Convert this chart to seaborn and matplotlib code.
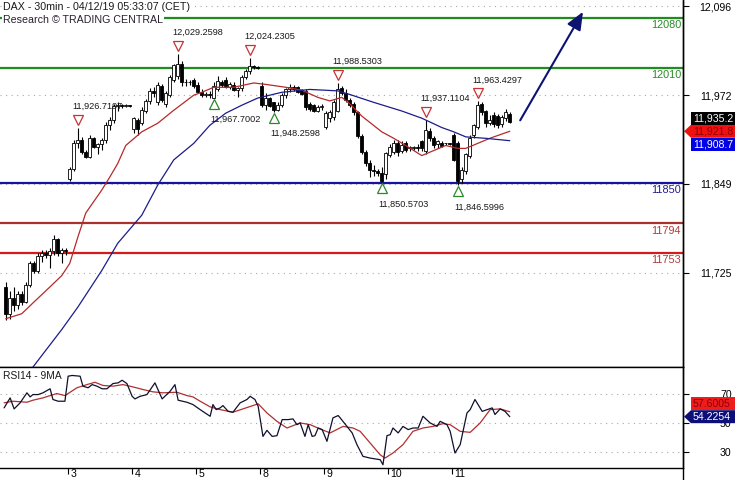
import numpy as np
import pandas as pd
import matplotlib
matplotlib.use("Agg")
import matplotlib.pyplot as plt
import matplotlib.transforms as mtransforms
from matplotlib.patches import Polygon
from matplotlib.lines import Line2D
import seaborn as sns

# ---------------- data ----------------
opens = [11705, 11668, 11690, 11680, 11695, 11685, 11708, 11738, 11728, 11748, 11752, 11750, 11755, 11772, 11752, 11756,
         11856, 11870, 11906, 11910, 11893, 11886, 11912, 11900, 11904, 11909, 11930, 11938, 11957, 11958, 11957, 11958,
         11925, 11938, 11933, 11950, 11964, 11978, 11962, 11985, 11960, 11972, 11993, 11998, 12016, 11990, 11990, 11993,
         11986, 11976, 11972, 11974, 11968, 11980, 11990, 11993, 11984, 11986, 11979, 11982, 11997, 12006, 12012, 12011,
         11985, 11958, 11968, 11962, 11952, 11958, 11972, 11980, 11983, 11983, 11979, 11978, 11960, 11958, 11950, 11956,
         11928, 11940, 11942, 11950, 11982, 11975, 11965, 11960, 11948, 11915, 11893, 11878, 11868, 11866, 11864, 11862,
         11889, 11893, 11906, 11895, 11905, 11898, 11899, 11900, 11908, 11895, 11922, 11912, 11904, 11906, 11905, 11905,
         11916, 11905, 11856, 11866, 11888, 11916, 11928, 11960, 11950, 11933, 11945, 11943, 11932, 11940, 11946]
highs = [11712, 11700, 11705, 11700, 11700, 11712, 11742, 11742, 11752, 11756, 11756, 11760, 11778, 11774, 11760, 11760,
         11872, 11910, 11926.7197, 11914, 11896, 11916, 11914, 11906, 11912, 11935, 11942, 11960, 11962, 11960, 11960, 11959,
         11942, 11940, 11955, 11966, 11982, 11984, 11990, 11988, 11978, 12000, 12016, 12029.2598, 12020, 11995, 11993, 11996,
         11990, 11980, 11976, 11978, 11990, 11998, 11993, 11997, 11990, 11990, 11984, 12000, 12008, 12024.2305, 12014, 12013,
         11990, 11975, 11970, 11963, 11962, 11975, 11982, 11987, 11986, 11985, 11981, 11980, 11962, 11960, 11958, 11960,
         11950, 11952, 11965, 11988.5303, 11985, 11980, 11968, 11962, 11950, 11918, 11896, 11882, 11875, 11870, 11872, 11893,
         11904, 11910, 11910, 11908, 11908, 11902, 11902, 11904, 11910, 11937.1104, 11926, 11915, 11910, 11908, 11906, 11906,
         11920, 11908, 11872, 11892, 11916, 11932, 11963.4297, 11962, 11952, 11944, 11948, 11946, 11945, 11953, 11948]
lows = [11659, 11660, 11672, 11675, 11680, 11683, 11705, 11725, 11724, 11740, 11745, 11732, 11750, 11748, 11738, 11750,
        11852, 11866, 11898, 11890, 11884, 11884, 11898, 11890, 11896, 11906, 11924, 11933, 11950, 11954, 11955, 11955,
        11920, 11916, 11930, 11947, 11960, 11970, 11958, 11962, 11956, 11970, 11990, 11995, 11985, 11985, 11986, 11982,
        11975, 11970, 11969, 11968, 11967.7002, 11978, 11984, 11982, 11980, 11978, 11970, 11978, 11994, 12002, 12008, 12008,
        11955, 11952, 11955, 11948.2598, 11950, 11955, 11968, 11976, 11978, 11975, 11972, 11952, 11950, 11948, 11948, 11952,
        11925, 11935, 11938, 11948, 11972, 11962, 11956, 11945, 11912, 11890, 11874, 11858, 11860, 11860, 11850.5703, 11855,
        11886, 11890, 11888, 11892, 11893, 11894, 11896, 11895, 11895, 11890, 11908, 11898, 11898, 11900, 11903, 11903,
        11880, 11846.5996, 11850, 11862, 11885, 11912, 11925, 11945, 11928, 11930, 11928, 11926, 11928, 11936, 11934]
closes = [11668, 11690, 11680, 11695, 11685, 11708, 11738, 11728, 11748, 11752, 11750, 11755, 11772, 11752, 11756, 11755,
          11870, 11906, 11910, 11893, 11886, 11912, 11900, 11904, 11909, 11930, 11938, 11957, 11958, 11957, 11958, 11957,
          11940, 11925, 11951, 11964, 11978, 11975, 11986, 11965, 11975, 11997, 12014, 12016, 11990, 11990, 11991, 11985,
          11976, 11972, 11974, 11972, 11985, 11992, 11986, 11984, 11988, 11979, 11982, 11997, 12006, 12012, 12011, 12010,
          11958, 11968, 11957, 11952, 11958, 11972, 11980, 11983, 11981, 11977, 11974, 11955, 11953, 11950, 11956, 11957,
          11947, 11948, 11962, 11980, 11975, 11965, 11958, 11948, 11915, 11893, 11878, 11868, 11866, 11864, 11852, 11891,
          11900, 11905, 11893, 11903, 11896, 11900, 11900, 11899, 11898, 11924, 11912, 11903, 11908, 11902, 11905, 11904,
          11882, 11852, 11868, 11890, 11913, 11930, 11958, 11948, 11934, 11938, 11932, 11930, 11942, 11948, 11935.2]

# moving averages on price (candle index, value)
ma_red_t = [0, 4, 7, 11, 14, 16, 18, 20, 24, 26, 28, 30, 34, 38, 42, 47, 49, 52, 57, 62, 65, 70, 74, 78, 81, 84, 86,
            89, 94, 97, 100, 104, 107, 110, 113, 115, 118, 121, 126]
ma_red_v = [11661, 11668, 11684, 11705, 11721, 11738, 11774, 11808, 11840, 11858, 11877, 11902, 11921, 11933, 11951,
            11972, 11976, 11983, 11983, 11989, 11987, 11983, 11979, 11969, 11964, 11969, 11960, 11943, 11921, 11912,
            11902, 11888, 11895, 11902, 11898, 11898, 11905, 11912, 11921.8]
ma_blue_t = [6, 14, 18, 24, 28, 34, 38, 42, 47, 51, 55, 59, 63, 69, 76, 83, 86, 92, 99, 104, 109, 112, 115, 120, 126]
ma_blue_v = [11588, 11646, 11677, 11728, 11766, 11805, 11847, 11882, 11905, 11930, 11947, 11958, 11968, 11976, 11980,
             11978, 11973, 11962, 11950, 11940, 11927, 11921, 11914, 11912, 11908.7]

# RSI14 and its 9-period MA
rsi_t = [-0.4, 1.1, 2.1, 3.6, 5.3, 6.1, 6.8, 8.1, 9.3, 11.1, 11.8, 13.1, 14.8, 15.6, 16.6, 18.6, 19.3, 20.6, 21.6,
         22.8, 24.1, 25.3, 26.8, 28.1, 29.1, 30.3, 31.6, 32.3, 33.6, 35.3, 37.3, 39.1, 41.1, 42.3, 43.1, 45.3, 46.8,
         48.6, 51.1, 51.8, 52.6, 53.6, 54.3, 55.6, 56.8, 58.6, 60.3, 61.1, 62.3, 63.1, 64.3, 65.3, 66.6, 67.8, 69.1,
         70.6, 71.8, 72.8, 73.6, 74.8, 75.6, 76.6, 77.3, 78.1, 79.1, 80.3, 81.8, 83.1, 83.6, 85.3, 86.6, 87.8, 89.3,
         91.1, 93.6, 94.3, 95.3, 96.1, 96.8, 98.1, 99.3, 100.6, 101.8, 103.1, 104.3, 106.1, 107.8, 108.6, 110.3,
         111.1, 112.3, 113.6, 115.3, 116.1, 117.3, 119.1, 121.6, 122.3, 123.6, 124.8, 126.0]
rsi_v = [60.3, 67.2, 59.6, 63.8, 70.7, 67.9, 69.5, 69.5, 70.7, 73.5, 66.1, 64.9, 64.9, 82.2, 82.7, 82.2, 75.3, 74.2,
         76.4, 75.3, 73.5, 73.5, 77.1, 77.6, 79.4, 77.1, 68.3, 66.5, 68.3, 69.5, 77.6, 66.5, 71.8, 76.4, 65.6, 64.2,
         62.6, 59.1, 54.5, 62.6, 59.1, 60.3, 61.9, 57.9, 57.3, 63.8, 66.1, 68.3, 66.1, 61.4, 40.6, 44.8, 40.6, 41.1,
         52.2, 52.2, 52.7, 48.7, 49.9, 40.6, 48.7, 40.6, 41.1, 46.4, 45.3, 37.2, 53.4, 55.0, 53.4, 47.5, 43.0, 34.9,
         26.8, 25.6, 24.5, 21.0, 41.1, 41.8, 46.4, 43.0, 47.5, 45.3, 46.4, 46.4, 54.5, 49.9, 47.5, 51.0, 48.7, 44.1,
         29.1, 34.9, 56.8, 59.1, 66.1, 57.9, 60.3, 55.7, 59.6, 57.9, 54.2254]
rsima_t = [-0.4, 1.8, 5.3, 6.8, 9.3, 11.1, 12.8, 14.8, 17.8, 20.3, 22.3, 24.3, 26.8, 29.3, 31.8, 34.3, 36.8, 39.3,
           42.8, 45.3, 46.8, 48.6, 51.1, 53.6, 56.8, 59.3, 61.8, 63.1, 65.3, 67.8, 70.3, 71.8, 73.6, 76.1, 78.6,
           81.1, 84.3, 86.8, 88.6, 91.1, 93.6, 94.8, 96.8, 99.3, 101.8, 104.3, 106.8, 109.3, 111.1, 113.6, 116.1,
           118.6, 121.1, 123.6, 126.0]
rsima_v = [63.8, 64.9, 64.2, 65.6, 67.2, 68.8, 70.2, 68.8, 74.2, 76.4, 78.0, 75.8, 75.3, 76.4, 74.8, 73.0, 71.4,
           70.7, 71.1, 68.8, 67.9, 64.9, 61.0, 59.1, 57.3, 59.6, 61.9, 63.1, 56.8, 51.0, 46.4, 48.0, 49.9, 48.7,
           45.7, 43.0, 47.5, 46.4, 44.1, 36.0, 27.9, 25.6, 29.1, 34.9, 44.1, 46.4, 47.5, 49.4, 48.7, 44.1, 43.4,
           49.9, 59.1, 59.6, 57.6005]

# swing highs / lows
top_idx = [18, 43, 61, 83, 105, 118]
top_val = [11926.7197, 12029.2598, 12024.2305, 11988.5303, 11937.1104, 11963.4297]
bot_idx = [52, 67, 94, 113]
bot_val = [11967.7002, 11948.2598, 11850.5703, 11846.5996]

# support / resistance levels
level_vals = [12080, 12010, 11850, 11794, 11753]
level_line_colors = ['#1f8c1f', '#1f8c1f', '#1414a0', '#a83030', '#d41a1a']
level_text_colors = ['#2a8a2a', '#2a8a2a', '#1e1e8c', '#b03a3a', '#b03a3a']

# forecast arrow (candle index, price)
arrow_from = (128.6, 11937.0)
arrow_to = (144.3, 12088.0)

price_ticks = [12096, 11972, 11849, 11725]
rsi_ticks = [70, 50, 30]
day_labels = ['3', '4', '5', '8', '9', '10', '11']
day_first_candle = [16, 32, 48, 64, 80, 96, 112]

title_1 = "DAX - 30min - 04/12/19 05:33:07 (CET)"
title_2 = "Research \u00a9 TRADING CENTRAL"
rsi_title = "RSI14 - 9MA"

# ---------------- style ----------------
sns.set_theme(style="white")
plt.rcParams['font.family'] = ['Liberation Sans', 'DejaVu Sans']
TXT = '#1a1a1a'

W, H = 735.0, 480.0
fig = plt.figure(figsize=(7.35, 4.8), dpi=100)
ax = fig.add_axes([0, 113.5 / H, 683 / W, 366.5 / H])
ax2 = fig.add_axes([0, 12.5 / H, 683 / W, 101 / H])

XL = (-1.43, 169.3)
YL = (11594.6, 12104.4)
RL = (19.1, 88.9)

df = pd.DataFrame({'o': opens, 'h': highs, 'l': lows, 'c': closes})
df['i'] = np.arange(len(df))
up = df['c'] >= df['o']

# wicks and bodies
ax.vlines(df['i'], df['l'], df['h'], color='black', lw=0.8, zorder=3)
ax.bar(df['i'], (df['c'] - df['o']).abs(), bottom=np.minimum(df['o'], df['c']), width=0.72,
       color=np.where(up, 'white', 'black'), edgecolor='black', linewidth=0.6, zorder=4)

# moving averages
sns.lineplot(x=ma_red_t, y=ma_red_v, ax=ax, color='#b52a2a', lw=0.9, estimator=None, sort=False, zorder=5)
sns.lineplot(x=ma_blue_t, y=ma_blue_v, ax=ax, color='#1c1c8a', lw=0.9, estimator=None, sort=False, zorder=5)

# levels
for v, lc, tc in zip(level_vals, level_line_colors, level_text_colors):
    ax.axhline(v, color=lc, lw=1.6, zorder=2)
    ax.annotate(f"{v}", xy=(1, v), xycoords=('axes fraction', 'data'), xytext=(-1.5, -5.4),
                textcoords='offset points', ha='right', va='center', fontsize=7.8, color=tc, zorder=6)

# swing markers
tri_up = mtransforms.offset_copy(ax.transData, fig=fig, y=5.8, units='points')
tri_dn = mtransforms.offset_copy(ax.transData, fig=fig, y=-4.2, units='points')
ax.plot(top_idx, top_val, ls='none', marker='v', ms=7.3, mfc='none', mec='#c83232', mew=0.9,
        transform=tri_up, zorder=6)
ax.plot(bot_idx, bot_val, ls='none', marker='^', ms=7.3, mfc='none', mec='#2a8a2a', mew=0.9,
        transform=tri_dn, zorder=6)
for i, v in zip(top_idx, top_val):
    ax.annotate(f"{v:,.4f}", xy=(i, v), xytext=(-3.6, 15.5), textcoords='offset points',
                ha='left', va='center', fontsize=6.6, color=TXT, zorder=7)
for i, v in zip(bot_idx, bot_val):
    ax.annotate(f"{v:,.4f}", xy=(i, v), xytext=(-2.2, -15.5), textcoords='offset points',
                ha='left', va='center', fontsize=6.6, color=TXT, zorder=7)

# forecast arrow
ax.annotate('', xy=arrow_to, xytext=arrow_from,
            arrowprops=dict(arrowstyle='-|>,head_length=0.9,head_width=0.38', color='#0c1470',
                            lw=1.5, shrinkA=0, shrinkB=0), zorder=7)

# titles
bb = dict(facecolor='white', edgecolor='none', pad=1.0)
ax.text(3 / 683, 1 - 7.5 / 366.5, title_1, transform=ax.transAxes, ha='left', va='center',
        fontsize=7.7, color=TXT, bbox=bb, zorder=8)
ax.text(3 / 683, 1 - 20 / 366.5, title_2, transform=ax.transAxes, ha='left', va='center',
        fontsize=7.7, color='#2a2030', bbox=bb, zorder=8)

ax.set_xlim(*XL)
ax.set_ylim(*YL)
ax.set_xticks([])
ax.yaxis.tick_right()
ax.set_yticks(price_ticks)
ax.set_yticklabels([f"{t:,}" for t in price_ticks])
ax.tick_params(axis='y', direction='out', length=4, width=0.8, pad=31, labelsize=7.6,
               colors='black', right=True, left=False)
for lab in ax.get_yticklabels():
    lab.set_ha('right')
ax.grid(axis='y', linestyle=(0, (1, 4)), color='#a8a8a8', lw=0.8)
ax.grid(axis='x', visible=False)
for s in ['top', 'left']:
    ax.spines[s].set_visible(False)
for s in ['right', 'bottom']:
    ax.spines[s].set_color('black')
    ax.spines[s].set_linewidth(1.0)
ax.set_xlabel('')
ax.set_ylabel('')

# ---------------- RSI panel ----------------
sns.lineplot(x=rsima_t, y=rsima_v, ax=ax2, color='#b03030', lw=0.9, estimator=None, sort=False, zorder=4)
sns.lineplot(x=rsi_t, y=rsi_v, ax=ax2, color='#10102e', lw=0.9, estimator=None, sort=False, zorder=5)
ax2.set_xlim(*XL)
ax2.set_ylim(*RL)
ax2.yaxis.tick_right()
ax2.set_yticks(rsi_ticks)
ax2.set_yticklabels([str(t) for t in rsi_ticks])
ax2.tick_params(axis='y', direction='out', length=4, width=0.8, pad=31, labelsize=7.6,
                colors='black', right=True, left=False)
for lab in ax2.get_yticklabels():
    lab.set_ha('right')
ax2.grid(axis='y', linestyle=(0, (1, 4)), color='#a8a8a8', lw=0.8)
ax2.grid(axis='x', visible=False)
ax2.set_xticks([d - 0.5 for d in day_first_candle])
ax2.set_xticklabels(day_labels)
ax2.tick_params(axis='x', direction='out', length=4.3, width=0.8, pad=-3.5, labelsize=7.6,
                colors='black', bottom=True)
shift = mtransforms.ScaledTranslation(2.0 / 72, 0, fig.dpi_scale_trans)
for lab in ax2.get_xticklabels():
    lab.set_ha('left')
    lab.set_transform(lab.get_transform() + shift)
ax2.spines['left'].set_visible(False)
for s in ['right', 'bottom', 'top']:
    ax2.spines[s].set_color('black')
    ax2.spines[s].set_linewidth(1.0)
ax2.set_xlabel('')
ax2.set_ylabel('')
ax2.text(3 / 683, 1 - 9.5 / 101, rsi_title, transform=ax2.transAxes, ha='left', va='center',
         fontsize=7.4, color=TXT, zorder=8)

# right axis line running to the bottom of the figure
fig.add_artist(Line2D([683 / W, 683 / W], [0, 1], color='black', lw=1.0))


# ---------------- value tags on the right ----------------
def tag(a, panel_px, value, fc, tc, text, arrow):
    y0, y1 = a.get_ylim()
    dpp = (y1 - y0) / panel_px
    h = 6.5 * dpp
    tr = mtransforms.blended_transform_factory(a.transAxes, a.transData)
    xb, xe, xt = 691 / 683, 745 / 683, 684 / 683
    if arrow:
        pts = [(xt, value), (xb, value + h), (xe, value + h), (xe, value - h), (xb, value - h)]
    else:
        pts = [(xb, value + h), (xe, value + h), (xe, value - h), (xb, value - h)]
    a.add_patch(Polygon(pts, closed=True, transform=tr, facecolor=fc, edgecolor='none',
                        clip_on=False, zorder=20))
    a.text(693 / 683, value, text, transform=tr, ha='left', va='center', fontsize=7.6,
           color=tc, clip_on=False, zorder=21)
    return 2 * h


step = tag(ax, 366.5, ma_red_v[-1], '#ee1111', '#8c0000', f"{ma_red_v[-1]:,.1f}", True)
tag(ax, 366.5, ma_red_v[-1] + step, '#000000', 'white', f"{closes[-1]:,.1f}", False)
tag(ax, 366.5, ma_red_v[-1] - step, '#0000e6', 'white', f"{ma_blue_v[-1]:,.1f}", False)
step2 = tag(ax2, 101, rsi_v[-1], '#0e0e7a', 'white', f"{rsi_v[-1]:.4f}", True)
tag(ax2, 101, rsi_v[-1] + step2, '#ee1c1c', '#8c0000', f"{rsima_v[-1]:.4f}", False)

fig.savefig('out.png', dpi=100)
